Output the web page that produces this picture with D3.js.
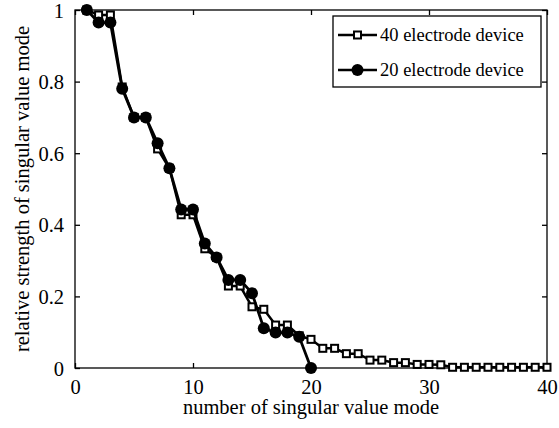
<!DOCTYPE html>
<html><head><meta charset="utf-8">
<script src="https://cdn.jsdelivr.net/npm/d3@7"></script>
<style>body{margin:0;background:#fff}svg{display:block}
svg text{font-family:"Liberation Serif","Times New Roman","Nimbus Roman","DejaVu Serif",serif;}</style>
</head><body>
<div id="chart"></div>
<script>
const modes40 = d3.range(1, 41);
const values40 = [1.0, 0.986, 0.986, 0.785, 0.70, 0.70, 0.612, 0.558, 0.428, 0.428,
  0.333, 0.309, 0.229, 0.229, 0.171, 0.164, 0.12, 0.12, 0.09, 0.08,
  0.055, 0.055, 0.04, 0.04, 0.022, 0.022, 0.015, 0.015, 0.01, 0.01,
  0.009, 0.002, 0.002, 0.002, 0.002, 0.002, 0.002, 0.002, 0.002, 0.002];
const modes20 = d3.range(1, 21);
const values20 = [1.0, 0.965, 0.965, 0.78, 0.70, 0.70, 0.628, 0.558, 0.443, 0.443,
  0.348, 0.309, 0.246, 0.246, 0.209, 0.111, 0.099, 0.099, 0.087, 0.0];
const xTicks = [0, 10, 20, 30, 40];
const yTicks = [0, 0.2, 0.4, 0.6, 0.8, 1];
const yTickLabels = ["0", "0.2", "0.4", "0.6", "0.8", "1"];
const seriesNames = ["40 electrode device", "20 electrode device"];
const xTitle = "number of singular value mode";
const yTitle = "relative strength of singular value mode";

const W = 559, H = 428;
const m = {left: 75, right: 12, top: 10, bottom: 60};
const fsAxis = "20.5px", fsLegend = "18.5px";
const svg = d3.select("#chart").append("svg").attr("width", W).attr("height", H);
const x = d3.scaleLinear().domain([0, 40]).range([m.left, W - m.right]);
const y = d3.scaleLinear().domain([0, 1]).range([H - m.bottom, m.top]);

svg.append("rect").attr("x", x(0)).attr("y", y(1)).attr("width", x(40) - x(0)).attr("height", y(0) - y(1))
  .attr("fill", "none").attr("stroke", "#000").attr("stroke-width", 1.3);

const tl = 5;
const gx = svg.append("g").attr("transform", `translate(0,${y(0)})`)
  .call(d3.axisBottom(x).tickValues(xTicks).tickSize(-tl).tickPadding(26).tickFormat(d3.format("d")));
const gxt = svg.append("g").attr("transform", `translate(0,${y(1)})`)
  .call(d3.axisTop(x).tickValues(xTicks).tickSize(-tl).tickFormat(""));
const gy = svg.append("g").attr("transform", `translate(${x(0)},0)`)
  .call(d3.axisLeft(y).tickValues(yTicks).tickSize(-tl).tickPadding(11).tickFormat((d, i) => yTickLabels[i]));
const gyr = svg.append("g").attr("transform", `translate(${x(40)},0)`)
  .call(d3.axisRight(y).tickValues(yTicks).tickSize(-tl).tickFormat(""));
[gx, gxt, gy, gyr].forEach(g => {
  g.attr("font-family", null).attr("font-size", null);
  g.select(".domain").remove();
  g.selectAll("line").attr("stroke", "#000").attr("stroke-width", 1.3);
  g.selectAll("text").style("font-size", fsAxis).attr("fill", "#000");
});
gx.selectAll("text").attr("dy", "0");
gy.selectAll("text").attr("dy", "0.35em");

svg.append("text").attr("x", (x(0) + x(40)) / 2).attr("y", 414).attr("text-anchor", "middle")
  .style("font-size", fsAxis).text(xTitle);
svg.append("text").attr("transform", `translate(29,${(y(0) + y(1)) / 2}) rotate(-90)`)
  .attr("text-anchor", "middle").style("font-size", fsAxis).text(yTitle);

const line = d3.line().x(d => x(d[0])).y(d => y(d[1]));
const d40 = modes40.map((k, i) => [k, values40[i]]);
const d20 = modes20.map((k, i) => [k, values20[i]]);

svg.append("path").datum(d40).attr("d", line).attr("fill", "none").attr("stroke", "#000").attr("stroke-width", 2.5);
const sq = 7;
svg.append("g").selectAll("rect").data(d40).join("rect")
  .attr("x", d => x(d[0]) - sq / 2).attr("y", d => y(d[1]) - sq / 2).attr("width", sq).attr("height", sq)
  .attr("fill", "#fff").attr("stroke", "#000").attr("stroke-width", 2);

svg.append("path").datum(d20).attr("d", line).attr("fill", "none").attr("stroke", "#000").attr("stroke-width", 2.8);
svg.append("g").selectAll("circle").data(d20).join("circle")
  .attr("cx", d => x(d[0])).attr("cy", d => y(d[1])).attr("r", 6).attr("fill", "#000");

const lg = svg.append("g");
lg.append("rect").attr("x", 333).attr("y", 16).attr("width", 208).attr("height", 71)
  .attr("fill", "#fff").attr("stroke", "#000").attr("stroke-width", 1.3);
seriesNames.forEach((name, i) => {
  const cy = 35 + i * 35;
  lg.append("line").attr("x1", 338).attr("x2", 377).attr("y1", cy).attr("y2", cy)
    .attr("stroke", "#000").attr("stroke-width", 2.6);
  if (i === 0) {
    lg.append("rect").attr("x", 357.5 - sq / 2).attr("y", cy - sq / 2).attr("width", sq).attr("height", sq)
      .attr("fill", "#fff").attr("stroke", "#000").attr("stroke-width", 2);
  } else {
    lg.append("circle").attr("cx", 357.5).attr("cy", cy).attr("r", 6).attr("fill", "#000");
  }
  lg.append("text").attr("x", 380).attr("y", cy).attr("dy", "0.35em")
    .style("font-size", fsLegend).text(name);
});
</script>
</body></html>
